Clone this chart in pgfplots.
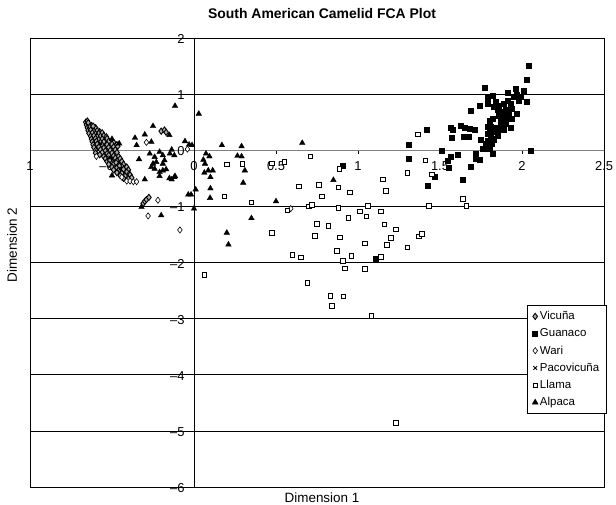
\documentclass[border=0pt]{standalone}
\usepackage{pgfplots}
\pgfplotsset{compat=1.18}
\usepackage{fontspec}
\setmainfont{Liberation Sans}
\begin{document}
\begin{tikzpicture}
\useasboundingbox (0,0) rectangle (616bp,505bp);
\begin{axis}[
  at={(30bp,18bp)}, anchor=south west,
  scale only axis, width=574bp, height=449bp,
  xmin=-1, xmax=2.5, ymin=-6, ymax=2,
  axis lines=middle,
  axis line style={-},
  x axis line style={gray, line width=0.9bp},
  y axis line style={black, line width=0.9bp},
  xtick={-1,-0.5,0,0.5,1,1.5,2,2.5},
  xticklabels={{1},{\textendash0.5},{0},{0.5},{1},{1.5},{2},{2.5}},
  ytick={-6,-5,-4,-3,-2,-1,0,1,2},
  yticklabels={{\textendash6},{\textendash5},{\textendash4},{\textendash3},{\textendash2},{\textendash1},{0},{1},{2}},
  hide obscured x ticks=false, hide obscured y ticks=false,
  ymajorgrids, grid style={black, line width=0.7bp},
  tick style={black, line width=0.7bp},
  tick align=outside, major tick length=4bp,
  ticklabel style={font=\fontsize{13}{15}\selectfont},
  xticklabel style={yshift=-4bp},
  yticklabel style={xshift=-2bp, yshift=-1bp},
  clip=false,
  legend style={at={(0.866,0.405)}, anchor=north west, draw=black, fill=white,
    font=\fontsize{11.5}{13}\selectfont, row sep=3.5bp, inner xsep=5bp, inner ysep=4bp, line width=0.7bp},
  legend cell align=left,
]
\draw[black, line width=0.9bp] (rel axis cs:0,0) rectangle (rel axis cs:1,1);
% Vicuna
\addplot[only marks, mark=diamond*, draw=black, fill=gray!65, mark size=3.1bp, line width=0.9bp] coordinates {
(-0.660,0.50) (-0.650,0.52) (-0.655,0.45) (-0.640,0.46) (-0.625,0.44) (-0.645,0.49)
(-0.650,0.40) (-0.635,0.41) (-0.620,0.39) (-0.600,0.40) (-0.615,0.43)
(-0.645,0.35) (-0.630,0.36) (-0.610,0.34) (-0.590,0.35) (-0.575,0.33)
(-0.640,0.30) (-0.620,0.31) (-0.600,0.29) (-0.580,0.30) (-0.560,0.31)
(-0.630,0.25) (-0.610,0.26) (-0.590,0.24) (-0.570,0.25) (-0.550,0.26) (-0.535,0.24)
(-0.625,0.20) (-0.600,0.21) (-0.580,0.19) (-0.560,0.20) (-0.530,0.21)
(-0.620,0.15) (-0.595,0.16) (-0.570,0.14) (-0.550,0.15) (-0.520,0.16) (-0.490,0.14)
(-0.615,0.10) (-0.590,0.11) (-0.560,0.09) (-0.530,0.10) (-0.500,0.11) (-0.470,0.10)
(-0.610,0.05) (-0.580,0.06) (-0.550,0.04) (-0.520,0.05) (-0.490,0.06) (-0.465,0.07)
(-0.600,0.00) (-0.570,0.01) (-0.540,-0.01) (-0.510,0.00) (-0.480,0.01)
(-0.600,-0.05) (-0.560,-0.04) (-0.530,-0.06) (-0.500,-0.05) (-0.470,-0.04)
(-0.550,-0.11) (-0.520,-0.09) (-0.490,-0.10) (-0.460,-0.11) (-0.575,-0.08)
(-0.540,-0.15) (-0.510,-0.16) (-0.480,-0.14) (-0.450,-0.15)
(-0.530,-0.20) (-0.500,-0.21) (-0.470,-0.19) (-0.440,-0.20) (-0.515,-0.18)
(-0.520,-0.25) (-0.490,-0.24) (-0.460,-0.26) (-0.430,-0.25) (-0.475,-0.22)
(-0.500,-0.30) (-0.470,-0.31) (-0.440,-0.29) (-0.410,-0.30) (-0.455,-0.28)
(-0.490,-0.35) (-0.460,-0.36) (-0.430,-0.34) (-0.400,-0.35)
(-0.470,-0.40) (-0.440,-0.41) (-0.410,-0.39) (-0.395,-0.42)
(-0.450,-0.45) (-0.420,-0.46) (-0.390,-0.44)
(-0.430,-0.50) (-0.400,-0.51) (-0.380,-0.49)
(-0.200,0.34) (-0.180,0.36) (-0.170,0.32)
(-0.310,-0.95) (-0.300,-0.91) (-0.290,-0.88) (-0.275,-0.84)
};
\addlegendentry{Vicuña}
% Guanaco
\addplot[only marks, mark=square*, draw=black, fill=black, mark size=2.5bp] coordinates {
(2.04,1.50) (2.03,1.25) (1.77,1.11) (1.96,1.09) (1.91,1.03) (2.01,1.06) (1.79,0.93) (1.82,0.97) (2.03,0.87) (1.74,0.79) (1.69,0.70) (1.79,0.83)
(1.83,0.77) (1.85,0.73) (1.87,0.68) (1.89,0.83) (1.91,0.89) (1.93,0.83) (1.95,0.95) (1.97,0.99) (1.99,0.95) (1.94,0.74) (1.92,0.65) (1.89,0.62) (1.86,0.62) (1.88,0.56) (1.91,0.56) (1.94,0.56) (1.965,0.65) (1.82,0.56) (1.80,0.53) (1.79,0.42) (1.81,0.42) (1.84,0.40) (1.87,0.42) (1.89,0.37) (1.93,0.40) (1.83,0.33) (1.85,0.36)
(1.79,0.30) (1.81,0.25) (1.82,0.21) (1.83,0.18) (1.79,0.17) (1.815,0.12) (1.805,0.07) (1.785,0.05) (1.77,0.02) (1.75,0.18) (1.78,0.12) (1.76,0.02) (1.80,0.02) (1.72,-0.06) (1.82,-0.07) (1.745,-0.16) (1.72,-0.15) (1.69,-0.29) (1.64,-0.52) (2.05,0.0)
(1.565,0.40) (1.575,0.36) (1.57,0.23) (1.625,0.43) (1.65,0.40) (1.68,0.39) (1.71,0.36) (1.645,0.24) (1.675,0.24) (1.42,0.36) (1.31,0.09) (1.51,0.0) (1.31,-0.15) (1.605,-0.08) (1.565,-0.11) (1.545,-0.18) (1.555,-0.31) (1.47,-0.48) (1.425,-0.64)
(0.906,-0.28) (1.11,-1.94)
(1.86,0.80) (1.90,0.72) (1.84,0.86) (1.98,0.88) (1.87,0.50) (1.90,0.47) (1.85,0.26) (1.80,0.35)
};
\addlegendentry{Guanaco}
% Wari
\addplot[only marks, mark=diamond*, draw=black, fill=white, mark size=3.1bp, line width=0.6bp] coordinates {
(-0.410,-0.55) (-0.390,-0.55) (-0.370,-0.56) (-0.350,-0.56) (-0.595,-0.11) (-0.440,-0.48)
(-0.22,-0.89) (-0.28,-1.17) (-0.086,-1.42) (-0.04,0.02) (-0.29,0.14) (0.59,-1.04)
};
\addlegendentry{Wari}
% Pacovicuna
\addplot[only marks, mark=x, draw=black, mark size=2.6bp, line width=0.9bp] coordinates {
(-0.57,0.12) (-0.51,-0.13) (-0.45,-0.33)
};
\addlegendentry{Pacovicuña}
% Llama
\addplot[only marks, mark=square*, draw=black, fill=white, mark size=2.3bp, line width=0.6bp] coordinates {
(0.20,-0.25) (0.295,-0.24) (0.475,-0.23) (0.55,-0.21) (0.71,-0.11)
(0.185,-0.82) (0.35,-0.93) (0.64,-0.64) (0.76,-0.62) (0.78,-0.82)
(0.57,-1.07) (0.70,-1.00) (0.72,-0.97)
(0.475,-1.47) (0.75,-1.31) (0.82,-1.35) (0.735,-1.52)
(0.60,-1.86) (0.65,-1.91) (0.063,-2.22) (0.69,-2.36)
(0.886,-0.33) (0.88,-0.66) (0.95,-0.75) (1.15,-0.52) (1.17,-0.72) (1.30,-0.40) (1.41,-0.18) (1.45,-0.43)
(0.88,-1.03) (1.01,-1.09) (1.06,-0.99) (1.14,-1.09) (1.05,-1.18) (0.94,-1.20) (1.43,-0.99)
(1.16,-1.32) (1.23,-1.41) (0.89,-1.55) (1.04,-1.66) (1.20,-1.56) (1.175,-1.68) (1.30,-1.73) (1.37,-1.53) (1.39,-1.49)
(0.87,-1.79) (0.96,-1.88) (0.906,-1.97) (1.14,-1.90) (0.92,-2.10) (1.04,-2.11)
(0.83,-2.59) (0.91,-2.60) (0.84,-2.77) (1.08,-2.95) (1.23,-4.86)
(1.365,0.285) (1.64,-0.87) (1.66,-0.99)
};
\addlegendentry{Llama}
% Alpaca
\addplot[only marks, mark=triangle*, draw=black, fill=black, mark size=3.2bp] coordinates {
(-0.50,0.20) (-0.456,0.12) (-0.50,-0.45)
(-0.36,0.22) (-0.35,0.09) (-0.30,0.28) (-0.25,0.43) (-0.26,0.15) (-0.335,-0.16) (-0.30,-0.52)
(-0.116,0.79) (0.029,0.65)
(-0.27,-0.06) (-0.24,-0.12) (-0.21,-0.03) (-0.19,-0.09) (-0.18,-0.18) (-0.23,-0.21) (-0.25,-0.24) (-0.19,-0.24) (-0.24,-0.33) (-0.21,-0.39) (-0.17,-0.34) (-0.15,-0.50) (-0.136,-0.52) (-0.12,-0.48) (-0.147,-0.06) (-0.12,-0.09) (-0.136,0.01) (-0.26,-0.30) (-0.21,-0.46) (-0.116,-0.46) (-0.19,-0.36)
(-0.055,0.16) (-0.03,0.10) (-0.012,0.09) (-0.15,0.27)
(-0.32,-1.01) (-0.20,-1.16)
(-0.035,-0.79) (-0.018,-0.79) (0.01,-0.70) (0.0,-1.04)
(0.17,0.09) (0.29,0.07) (0.66,0.13) (0.073,-0.06) (0.094,-0.11) (0.057,-0.17) (0.067,-0.24) (0.063,-0.40) (0.087,-0.36) (0.114,-0.36) (0.10,-0.48) (0.265,-0.10) (0.29,-0.11) (0.31,-0.36) (0.30,-0.58) (0.10,-0.68) (0.098,-0.85) (0.50,-0.91) (0.35,-1.21) (0.20,-1.47) (0.21,-1.68) (0.85,-0.53)
};
\addlegendentry{Alpaca}
\end{axis}
\node[font=\fontsize{14}{16}\selectfont\bfseries] at (322bp,491bp) {South American Camelid FCA Plot};
\node[font=\fontsize{13.5}{16}\selectfont, rotate=90] at (12bp,260bp) {Dimension 2};
\node[font=\fontsize{13.5}{16}\selectfont] at (322bp,7bp) {Dimension 1};
\end{tikzpicture}
\end{document}
